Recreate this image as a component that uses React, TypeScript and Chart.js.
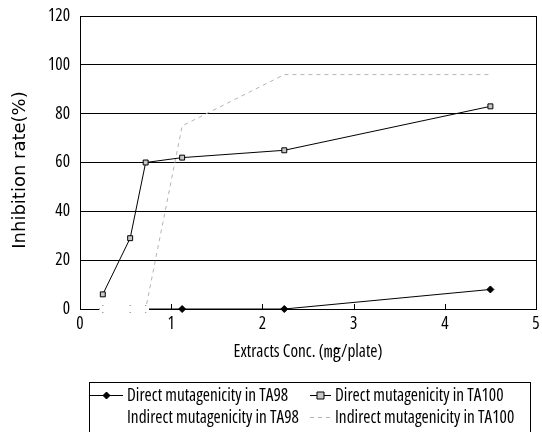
import React, { useEffect, useRef } from "react";
import { Chart, registerables } from "chart.js";

Chart.register(...registerables);

const conc = [0.25, 0.55, 0.72, 1.12, 2.24, 4.5];
const directTA98 = [0, 0, 0, 0, 0, 8];
const directTA100 = [6, 29, 60, 62, 65, 83];
const indirectTA98 = [0, 0, 0, null, null, null];
const indirectTA100 = [0, 0, 0, 75, 96, 96];
const seriesNames = [
  "Direct mutagenicity in TA98",
  "Direct mutagenicity in TA100",
  "Indirect mutagenicity in TA98",
  "Indirect mutagenicity in TA100",
];
const yTicks = [0, 20, 40, 60, 80, 100, 120];
const xTicks = [0, 1, 2, 3, 4, 5];
const xTitle = "Extracts Conc. (㎎/plate)";
const yTitle = "Inhibition rate(%)";

const NARROW_FAMILY = "'Open Sans', 'Roboto Condensed', 'Noto Sans CJK KR', sans-serif";
const NARROW_CANVAS = `condensed 17.3px ${NARROW_FAMILY}`;
const REGULAR_CANVAS = "18px 'DejaVu Sans', sans-serif";

function drawMarker(ctx: CanvasRenderingContext2D, style: string, x: number, y: number, r: number, fill: string, stroke: string) {
  ctx.save();
  ctx.fillStyle = fill;
  ctx.strokeStyle = stroke;
  ctx.lineWidth = 1;
  ctx.setLineDash([]);
  ctx.beginPath();
  if (style === "rectRot") {
    ctx.moveTo(x, y - r);
    ctx.lineTo(x + r, y);
    ctx.lineTo(x, y + r);
    ctx.lineTo(x - r, y);
    ctx.closePath();
  } else if (style === "rect") {
    ctx.rect(x - r, y - r, 2 * r, 2 * r);
  } else {
    ctx.arc(x, y, r, 0, Math.PI * 2);
  }
  ctx.fill();
  ctx.stroke();
  ctx.restore();
}

const framePlugin = {
  id: "frame",
  beforeDatasetsDraw(chart: any) {
    const { ctx, chartArea } = chart;
    const xs = chart.scales.x;
    ctx.save();
    ctx.strokeStyle = "#000";
    ctx.lineWidth = 1;
    ctx.beginPath();
    ctx.moveTo(Math.round(chartArea.right) + 0.5, chartArea.top);
    ctx.lineTo(Math.round(chartArea.right) + 0.5, chartArea.bottom);
    ctx.stroke();
    for (const t of xTicks) {
      if (t === 0 || t === 5) continue;
      const px = Math.round(xs.getPixelForValue(t)) + 0.5;
      ctx.beginPath();
      ctx.moveTo(px, chartArea.bottom);
      ctx.lineTo(px, chartArea.bottom - 5);
      ctx.stroke();
    }
    ctx.restore();
  },
  afterDraw(chart: any) {
    const { ctx } = chart;
    ctx.save();
    ctx.translate(20, 170);
    ctx.rotate(-Math.PI / 2);
    ctx.font = REGULAR_CANVAS;
    ctx.fillStyle = "#000";
    ctx.textAlign = "center";
    ctx.textBaseline = "middle";
    ctx.fillText(yTitle, 0, 0);
    ctx.restore();
  },
};

const legendPlugin = {
  id: "boxLegend",
  afterDraw(chart: any) {
    const { ctx } = chart;
    const left = 89.5, top = 382.5, right = 530.5, bottom = 440;
    ctx.save();
    ctx.strokeStyle = "#000";
    ctx.lineWidth = 1;
    ctx.strokeRect(left, top, right - left, bottom - top);
    const pos = [
      { x0: 90, x1: 123, tx: 127, y: 395 },
      { x0: 310, x1: 331, tx: 335, y: 395 },
      { x0: 90, x1: 123, tx: 127, y: 417 },
      { x0: 310, x1: 331, tx: 335, y: 417 },
    ];
    ctx.font = NARROW_CANVAS;
    ctx.textBaseline = "middle";
    ctx.textAlign = "left";
    chart.data.datasets.forEach((ds: any, i: number) => {
      const p = pos[i];
      ctx.save();
      ctx.strokeStyle = ds.borderColor;
      ctx.lineWidth = ds.borderWidth;
      ctx.setLineDash(ds.borderDash || []);
      ctx.beginPath();
      ctx.moveTo(p.x0, p.y + 0.5);
      ctx.lineTo(p.x1, p.y + 0.5);
      ctx.stroke();
      ctx.restore();
      if (ds.pointRadius > 0 && ds.borderColor !== "#fff") {
        drawMarker(ctx, ds.pointStyle, (p.x0 + p.x1) / 2, p.y + 0.5, ds.pointRadius, ds.pointBackgroundColor, ds.pointBorderColor);
      }
      ctx.fillStyle = "#000";
      ctx.fillText(seriesNames[i], p.tx, p.y + 1);
    });
    ctx.restore();
  },
};

const zeroPad = (s: any) => {
  s.paddingLeft = 0;
  s.paddingRight = 0;
  s.paddingTop = 0;
  s.paddingBottom = 0;
};

export default function App() {
  const ref = useRef<HTMLCanvasElement | null>(null);
  useEffect(() => {
    if (!ref.current) return;
    const pts = (arr: (number | null)[]) => conc.map((c, i) => ({ x: c, y: arr[i] }));
    const tickFont = { family: NARROW_FAMILY, size: 17.3, weight: "condensed" as any };
    const chart = new Chart(ref.current, {
      type: "line",
      data: {
        datasets: [
          {
            label: seriesNames[0],
            data: pts(directTA98),
            borderColor: "#000",
            borderWidth: 1,
            pointStyle: "rectRot",
            pointRadius: 3.5,
            pointBackgroundColor: "#000",
            pointBorderColor: "#000",
            clip: 6,
            order: 2,
          } as any,
          {
            label: seriesNames[1],
            data: pts(directTA100),
            borderColor: "#000",
            borderWidth: 1,
            pointStyle: "rect",
            pointRadius: 3.5,
            pointBackgroundColor: "#c8c8c8",
            pointBorderColor: "#000",
            clip: 6,
            order: 1,
          } as any,
          {
            label: seriesNames[2],
            data: pts(indirectTA98),
            borderColor: "#fff",
            borderWidth: 2,
            pointStyle: "circle",
            pointRadius: 2.5,
            pointBackgroundColor: "#fff",
            pointBorderColor: "#fff",
            spanGaps: false,
            clip: 6,
            order: 0,
          } as any,
          {
            label: seriesNames[3],
            data: pts(indirectTA100),
            borderColor: "#b4b4b4",
            borderWidth: 1,
            borderDash: [4, 4],
            pointStyle: "circle",
            pointRadius: 0,
            pointBackgroundColor: "#b4b4b4",
            pointBorderColor: "#b4b4b4",
            clip: 6,
            order: 3,
          } as any,
        ],
      },
      options: {
        animation: false,
        responsive: true,
        maintainAspectRatio: false,
        layout: { padding: { left: 0, right: 4, top: 16, bottom: 70 } },
        plugins: { legend: { display: false }, tooltip: { enabled: false } },
        elements: { line: { tension: 0 } },
        scales: {
          x: {
            type: "linear",
            min: 0,
            max: 5,
            afterFit: (s: any) => { s.height = 53; zeroPad(s); },
            afterBuildTicks: (s: any) => { s.ticks = xTicks.map((v) => ({ value: v })); },
            grid: { display: false, drawTicks: false },
            border: { display: true, color: "#000", width: 1 },
            ticks: { color: "#000", padding: 5, font: tickFont, maxRotation: 0 },
            title: {
              display: true,
              text: xTitle,
              color: "#000",
              font: tickFont,
              padding: { top: 0, bottom: 0 },
            },
          },
          y: {
            min: 0,
            max: 120,
            afterFit: (s: any) => { s.width = 80; zeroPad(s); },
            afterBuildTicks: (s: any) => { s.ticks = yTicks.map((v) => ({ value: v })); },
            grid: { color: "#000", lineWidth: 1, drawTicks: false },
            border: { display: true, color: "#000", width: 1 },
            ticks: { color: "#000", padding: 10, font: tickFont },
            title: { display: false },
          },
        },
      },
      plugins: [framePlugin, legendPlugin],
    });
    return () => chart.destroy();
  }, []);
  return (
    <div style={{ position: "fixed", left: 0, top: 0, width: 542, height: 432, background: "#fff" }}>
      <canvas ref={ref} />
    </div>
  );
}
